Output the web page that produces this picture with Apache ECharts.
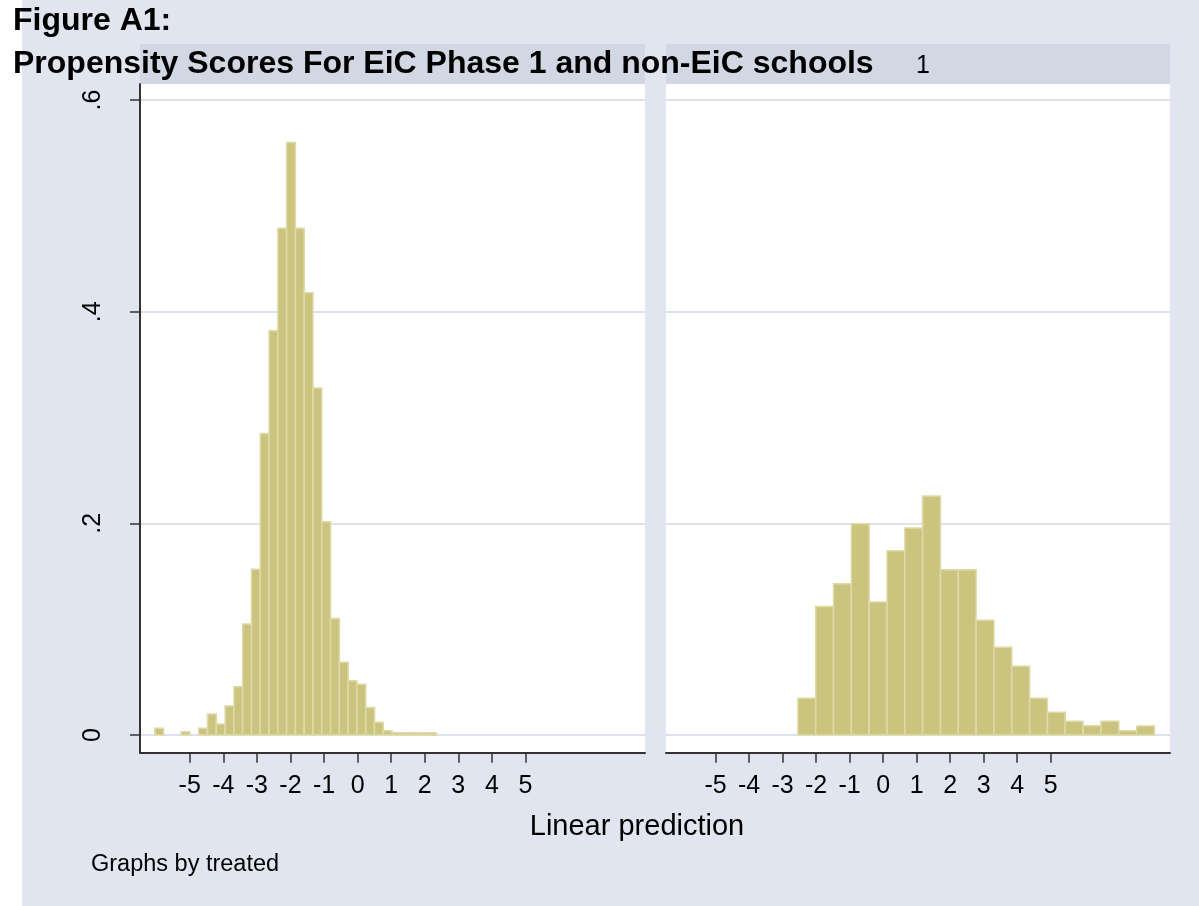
<!DOCTYPE html>
<html>
<head>
<meta charset="utf-8">
<title>Propensity Scores</title>
<script src="https://cdn.jsdelivr.net/npm/echarts@6/dist/echarts.min.js"></script>
<style>
  html, body { margin: 0; padding: 0; background: #E0E5EF; }
  #main { width: 1199px; height: 906px; }
</style>
</head>
<body>
<div id="main"></div>
<script>
// histogram bins (density per bin)
var leftStart = -6.04, leftWidth = 0.2618;   // non-EiC (treated = 0)
var leftDensity = [0.0063, 0, 0, 0.003, 0, 0.0063, 0.0198, 0.0104, 0.0274, 0.0457,
  0.105, 0.1566, 0.285, 0.382, 0.479, 0.56, 0.479, 0.418, 0.328, 0.2016,
  0.11, 0.0687, 0.0513, 0.0479, 0.0261, 0.012, 0.0041, 0.0022, 0.0022, 0.0022,
  0.0022, 0.0022];

var rightStart = -2.545, rightWidth = 0.532; // EiC phase 1 (treated = 1)
var rightDensity = [0.0347, 0.1215, 0.1429, 0.1997, 0.1256, 0.1741, 0.1956, 0.2259,
  0.1562, 0.1562, 0.1085, 0.083, 0.065, 0.0347, 0.0215, 0.0129, 0.0088, 0.0129,
  0.0041, 0.0085];

var xTicks = [-5, -4, -3, -2, -1, 0, 1, 2, 3, 4, 5];
var yTicks = [0, 0.2, 0.4, 0.6];
var yTickLabels = ['0', '.2', '.4', '.6'];
var panelLabels = ['0', '1'];

function bins(start, width, dens) {
  var out = [];
  for (var i = 0; i < dens.length; i++) {
    if (dens[i] > 0) out.push([start + i * width, start + (i + 1) * width, dens[i]]);
  }
  return out;
}

var myChart = echarts.init(document.getElementById('main'));
var FONT = "'Liberation Sans', Arial, sans-serif";

function renderBar(params, api) {
  var p0 = api.coord([api.value(0), api.value(2)]);
  var p1 = api.coord([api.value(1), 0]);
  return {
    type: 'rect',
    shape: { x: p0[0], y: p0[1], width: p1[0] - p0[0], height: p1[1] - p0[1] },
    style: { fill: '#CBC47F', stroke: '#DEDAA8', lineWidth: 1.5 }
  };
}

function xAx(i) {
  return {
    type: 'value', gridIndex: i, min: -6.48, max: 8.56, position: 'bottom',
    axisLine: { show: true, onZero: false, lineStyle: { color: '#333', width: 2 } },
    axisTick: { show: true, length: 10, customValues: xTicks, lineStyle: { color: '#333', width: 1.5 } },
    axisLabel: { customValues: xTicks, margin: 21, color: '#000', fontSize: 25, fontFamily: FONT },
    splitLine: { show: false }
  };
}

function yAx(i) {
  return {
    type: 'value', gridIndex: i, min: -0.01673, max: 0.6152, position: 'left',
    axisLine: { show: i === 0, onZero: false, lineStyle: { color: '#333', width: 2 } },
    axisTick: { show: i === 0, length: 10, customValues: yTicks, lineStyle: { color: '#333', width: 1.5 } },
    axisLabel: {
      show: i === 0, customValues: yTicks, rotate: 90, margin: 34,
      color: '#000', fontSize: 25, fontFamily: FONT,
      formatter: function (v) { return yTickLabels[yTicks.indexOf(+v.toFixed(1))]; }
    },
    splitLine: { show: true, lineStyle: { color: '#DCE1EC', width: 2 } }
  };
}

option = {
  backgroundColor: '#E0E5EF',
  animation: false,
  title: [
    { text: 'Figure A1:', left: 8, top: 0,
      textStyle: { fontSize: 32, fontWeight: 'bold', color: '#000', fontFamily: FONT } },
    { text: panelLabels[1], left: 918, top: 49, textAlign: 'center',
      textStyle: { fontSize: 25, fontWeight: 'normal', color: '#000', fontFamily: FONT } },
    { text: 'Propensity Scores For EiC Phase 1 and non-EiC schools', left: 8, top: 43,
      textStyle: { fontSize: 32, fontWeight: 'bold', color: '#000', fontFamily: FONT } },
    { text: 'Linear prediction', left: 632, top: 807, textAlign: 'center',
      textStyle: { fontSize: 29, fontWeight: 'normal', color: '#000', fontFamily: FONT } },
    { text: 'Graphs by treated', left: 86, top: 848,
      textStyle: { fontSize: 23.5, fontWeight: 'normal', color: '#000', fontFamily: FONT } }
  ],
  graphic: [
    { type: 'rect', left: 0, top: 0, z: -1, shape: { width: 22, height: 906 }, style: { fill: '#FFFFFF' } },
    { type: 'rect', left: 140, top: 44, z: -1, shape: { width: 505, height: 40 }, style: { fill: '#D1D8E4' } },
    { type: 'rect', left: 666, top: 44, z: -1, shape: { width: 504, height: 40 }, style: { fill: '#D1D8E4' } }
  ],
  grid: [
    { left: 140, width: 505, top: 84, bottom: 153.3, show: true, backgroundColor: '#fff', borderWidth: 0 },
    { left: 666, width: 504, top: 84, bottom: 153.3, show: true, backgroundColor: '#fff', borderWidth: 0 }
  ],
  xAxis: [xAx(0), xAx(1)],
  yAxis: [yAx(0), yAx(1)],
  series: [
    { name: 'treated=0', type: 'custom', xAxisIndex: 0, yAxisIndex: 0, renderItem: renderBar,
      encode: { x: [0, 1], y: 2 }, data: bins(leftStart, leftWidth, leftDensity) },
    { name: 'treated=1', type: 'custom', xAxisIndex: 1, yAxisIndex: 1, renderItem: renderBar,
      encode: { x: [0, 1], y: 2 }, data: bins(rightStart, rightWidth, rightDensity) }
  ]
};

myChart.setOption(option);
window.onresize = myChart.resize;
</script>
</body>
</html>
